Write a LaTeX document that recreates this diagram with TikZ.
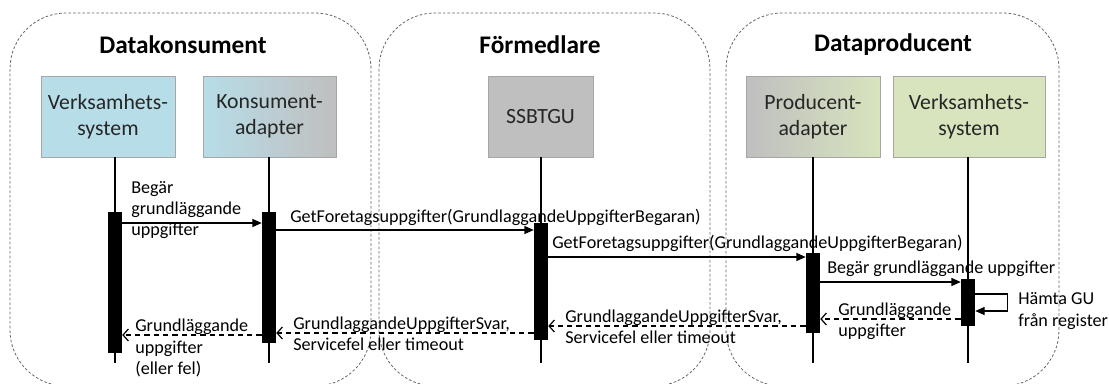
\documentclass[tikz,border=0pt]{standalone}
\usepackage{fontspec}
\setmainfont{Carlito}
\usetikzlibrary{arrows.meta}
\definecolor{konsblue}{HTML}{B7DDE8}
\definecolor{formgray}{HTML}{BFBFBF}
\definecolor{prodgreen}{HTML}{D7E4BD}
\begin{document}
\begin{tikzpicture}[x=0.75pt,y=-0.75pt,
		area/.style={draw=black!60,line width=0.6pt,dash pattern=on 2pt off 1.5pt,rounded corners=42pt},
		title/.style={font=\fontsize{19}{22}\selectfont\bfseries},
		actor/.style={draw=black!35,inner sep=0pt,minimum height=60.75pt,align=center,text=black!85,font=\fontsize{16.3}{19.5}\selectfont},
		bar/.style={fill=black,inner sep=0pt,minimum width=10.5pt},
		life/.style={line width=0.9pt},
		call/.style={line width=0.9pt,-{Triangle[length=7pt,width=6pt]}},
		reply/.style={line width=0.9pt,dash pattern=on 4pt off 3pt,-{Straight Barb[length=4pt,width=9pt]}},
		lbl/.style={anchor=west,align=left,inner sep=0pt,font=\fontsize{13.6}{16}\selectfont}
	]
		\useasboundingbox (0,0) rectangle (1109,383);
		% omraden
		\draw[area] (10,13) rectangle (371,386);
		\draw[area] (379,13) rectangle (710,386);
		\draw[area] (726,13) rectangle (1059,386);
		\node[title] (tkons) at (183,45) {Datakonsument};
		\node[title] (tform) at (540,45) {Förmedlare};
		\node[title] (tprod) at (893,45) {Dataproducent};
		% aktorer
		\node[actor,fill=konsblue,minimum width=100.5pt] (vs1) at (108,116.5) {Verksamhets-\\system};
		\node[actor,left color=konsblue,middle color=konsblue!75!formgray,right color=formgray,minimum width=99.75pt] (ka) at (269.5,116.5) {Konsument-\\adapter};
		\node[actor,fill=formgray,minimum width=78.75pt] (ssb) at (540.5,116.5) {SSBTGU};
		\node[actor,left color=formgray,middle color=prodgreen!75!formgray,right color=prodgreen,minimum width=100.5pt] (pa) at (813,116.5) {Producent-\\adapter};
		\node[actor,fill=prodgreen,minimum width=114pt] (vs2) at (969,116.5) {Verksamhets-\\system};
		% aktiveringar
		\node[bar,minimum height=105.75pt] (a1) at (115,282.5) {};
		\node[bar,minimum height=98.25pt] (a2) at (269,277.5) {};
		\node[bar,minimum height=87.75pt] (a3) at (541,281.5) {};
		\node[bar,minimum height=60pt] (a4) at (813,293) {};
		\node[bar,minimum height=35.25pt] (a5) at (968,302.5) {};
		% livslinjer
		\draw[life] (a1 |- vs1.south) -- (a1 |- 0,363);
		\draw[life] (a2 |- ka.south) -- (a2 |- 0,363);
		\draw[life] (a3 |- ssb.south) -- (a3 |- 0,363);
		\draw[life] (a4 |- pa.south) -- (a4 |- 0,363);
		\draw[life] (a5 |- vs2.south) -- (a5 |- 0,363);
		% anrop
		\draw[call] (a1.east |- 0,223) -- (a2.west |- 0,223);
		\draw[call] (a2.east |- 0,230) -- (a3.west |- 0,230);
		\draw[call] (a3.east |- 0,257) -- (a4.west |- 0,257);
		\draw[call] (a4.east |- 0,282) -- (a5.west |- 0,282);
		\draw[call] (a5.east |- 0,294) -- ++(32,0) -- ++(0,17) -- (a5.east |- 0,311);
		% svar
		\draw[reply] (a5.west |- 0,319) -- (a4.east |- 0,319);
		\draw[reply] (a4.west |- 0,326) -- (a3.east |- 0,326);
		\draw[reply] (a3.west |- 0,333) -- (a2.east |- 0,333);
		\draw[reply] (a2.west |- 0,335) -- (a1.east |- 0,335);
		% texter
		\node[lbl] (t1) at (131,210) {Begär\\grundläggande\\uppgifter};
		\node[lbl] (t2) at (290,217) {GetForetagsuppgifter(GrundlaggandeUppgifterBegaran)};
		\node[lbl] (t3) at (552,243) {GetForetagsuppgifter(GrundlaggandeUppgifterBegaran)};
		\node[lbl] (t4) at (827,269) {Begär grundläggande uppgifter};
		\node[lbl] (t5) at (1018,311) {Hämta GU\\från register};
		\node[lbl] (t6) at (838,321) {Grundläggande\\uppgifter};
		\node[lbl] (t7) at (565,327) {GrundlaggandeUppgifterSvar,\\Servicefel eller timeout};
		\node[lbl] (t8) at (293,334) {GrundlaggandeUppgifterSvar,\\Servicefel eller timeout};
		\node[lbl] (t9) at (135,348) {Grundläggande\\uppgifter\\(eller fel)};
\end{tikzpicture}
\end{document}
